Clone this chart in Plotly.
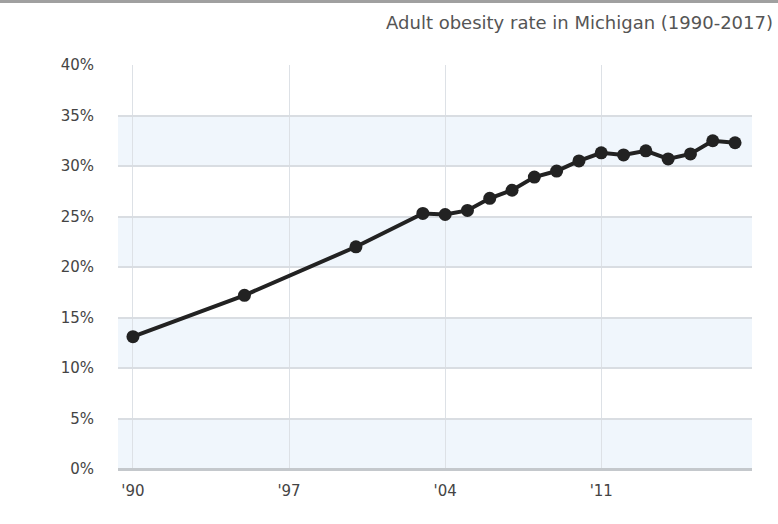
import plotly.graph_objects as go

years = [1990, 1995, 2000, 2003, 2004, 2005, 2006, 2007, 2008, 2009,
         2010, 2011, 2012, 2013, 2014, 2015, 2016, 2017]
obesity = [13.1, 17.2, 22.0, 25.3, 25.2, 25.6, 26.8, 27.6, 28.9, 29.5,
           30.5, 31.3, 31.1, 31.5, 30.7, 31.2, 32.5, 32.3]
x_tickvals = [1990, 1997, 2004, 2011]
x_ticktext = ["'90", "'97", "'04", "'11"]
y_tickvals = [0, 5, 10, 15, 20, 25, 30, 35, 40]
y_ticktext = ["0%", "5%", "10%", "15%", "20%", "25%", "30%", "35%", "40%"]
title_text = "Adult obesity rate in Michigan (1990-2017)"

W, H = 778, 524
ml, mr, mt, mb = 118, 26, 65, 55
FONT = "DejaVu Sans, Arial, sans-serif"

fig = go.Figure()
fig.add_trace(go.Scatter(
    x=years, y=obesity, mode="lines+markers",
    line=dict(color="#222222", width=4),
    marker=dict(color="#222222", size=13),
    hoverinfo="x+y", showlegend=False,
))

shapes = []
for lo in [0, 10, 20, 30]:
    shapes.append(dict(type="rect", xref="paper", yref="y", x0=0, x1=1,
                       y0=lo, y1=lo + 5, fillcolor="#f0f6fc",
                       line=dict(width=0), layer="below"))
# top border line
pw = W - ml - mr
ph = H - mt - mb
shapes.append(dict(type="line", xref="paper", yref="paper",
                   x0=-ml / pw, x1=(W - ml) / pw,
                   y0=1 + (mt - 1.5) / ph, y1=1 + (mt - 1.5) / ph,
                   line=dict(color="#a0a0a0", width=3)))

fig.update_layout(
    width=W, height=H,
    margin=dict(l=ml, r=mr, t=mt, b=mb),
    paper_bgcolor="white", plot_bgcolor="rgba(0,0,0,0)",
    shapes=shapes,
    title=dict(text=title_text, xref="container", yref="container",
               x=773 / W, xanchor="right", y=1 - 23 / H, yanchor="middle",
               font=dict(family=FONT, size=18, color="#555555")),
    font=dict(family=FONT, size=14, color="#444444"),
)
fig.update_xaxes(
    range=[1989.33, 2017.76], tickvals=x_tickvals, ticktext=x_ticktext,
    showgrid=True, gridcolor="#dde1e6", gridwidth=1, zeroline=False,
    ticks="outside", ticklen=8, tickcolor="rgba(0,0,0,0)",
    showline=False, tickfont=dict(family=FONT, size=15, color="#444444"),
)
fig.update_yaxes(
    range=[0, 40], tickvals=y_tickvals, ticktext=y_ticktext,
    showgrid=True, gridcolor="#d9dde2", gridwidth=1.5,
    zeroline=True, zerolinecolor="#c4c8cc", zerolinewidth=2.5,
    ticks="outside", ticklen=20, tickcolor="rgba(0,0,0,0)",
    showline=False, tickfont=dict(family=FONT, size=15, color="#444444"),
)

fig.write_html("out.html")
